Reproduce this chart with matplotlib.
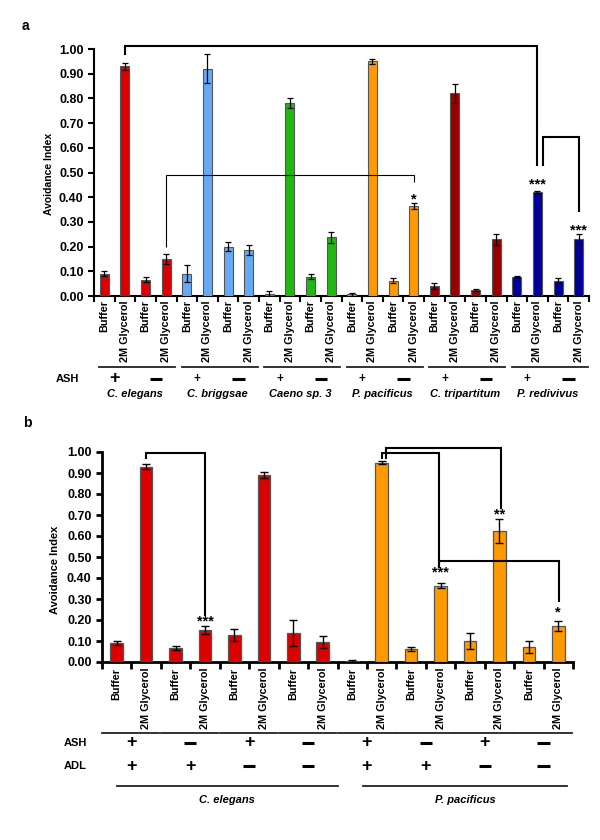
import matplotlib
matplotlib.use('Agg')
import matplotlib.pyplot as plt
from matplotlib.transforms import blended_transform_factory as btf
import numpy as np

plt.rcParams['font.family'] = ['Liberation Sans', 'DejaVu Sans']
plt.rcParams['font.weight'] = 'bold'

# ---------------- data ----------------
treatments = ['Buffer', '2M Glycerol']

a_species = ['C. elegans', 'C. briggsae', 'Caeno sp. 3', 'P. pacificus', 'C. tripartitum', 'P. redivivus']
a_ash = ['+', '-']
a_values = [0.09, 0.93, 0.065, 0.15,
            0.09, 0.92, 0.20, 0.185,
            0.007, 0.78, 0.078, 0.237,
            0.007, 0.95, 0.061, 0.364,
            0.04, 0.82, 0.024, 0.23,
            0.078, 0.42, 0.062, 0.23]
a_errors = [0.01, 0.013, 0.01, 0.02,
            0.034, 0.058, 0.019, 0.021,
            0.013, 0.02, 0.011, 0.021,
            0.006, 0.01, 0.01, 0.013,
            0.013, 0.04, 0.005, 0.022,
            0.003, 0.004, 0.01, 0.022]
a_colors = ['#DD0000', '#66AAF5', '#22B814', '#FF9900', '#990000', '#000099']

b_species = ['C. elegans', 'P. pacificus']
b_ash = ['+', '-', '+', '-']
b_adl = ['+', '+', '-', '-']
b_values = [0.09, 0.93, 0.066, 0.152, 0.128, 0.892, 0.138, 0.095,
            0.005, 0.95, 0.062, 0.363, 0.10, 0.622, 0.073, 0.172]
b_errors = [0.01, 0.012, 0.008, 0.02, 0.03, 0.015, 0.063, 0.03,
            0.003, 0.008, 0.008, 0.012, 0.038, 0.057, 0.028, 0.022]
b_colors = ['#DD0000', '#FF9900']

W, H = 600, 840
fig = plt.figure(figsize=(6, 8.4), dpi=100)


def fy(py):
    return 1 - py / H


def fx(px):
    return px / W


def style_axes(ax, n, lw, tl, pad):
    ax.set_xlim(-0.5, n - 0.5)
    ax.set_ylim(0, 1.0)
    for s in ['top', 'right']:
        ax.spines[s].set_visible(False)
    for s in ['left', 'bottom']:
        ax.spines[s].set_linewidth(lw)
    yt = np.round(np.arange(0, 1.001, 0.1), 2)
    ax.set_yticks(yt)
    ax.set_yticklabels([f'{v:.2f}' for v in yt], fontsize=9, fontweight='bold')
    ax.tick_params(axis='y', length=4, width=lw)
    ax.set_xticks(np.arange(-0.5, n, 1.0))
    ax.set_xticklabels([''] * (n + 1))
    ax.tick_params(axis='x', which='major', length=tl, width=lw, direction='out')
    ax.set_xticks(np.arange(n), minor=True)
    ax.set_xticklabels(treatments * (n // 2), minor=True, rotation=90,
                       fontsize=7.8, fontweight='bold')
    ax.tick_params(axis='x', which='minor', length=0, pad=pad)


def bracket(ax, pts, lw):
    xs = [p[0] for p in pts]
    ys = [p[1] for p in pts]
    ax.plot(xs, ys, color='black', lw=lw, clip_on=False,
            solid_joinstyle='miter', solid_capstyle='butt', zorder=5)


def sign_mark(ax, trans, x, y, sign, half, plus_size):
    if sign == '+':
        ax.text(x, y, '+', transform=trans, ha='center', va='center',
                fontsize=plus_size, fontweight='bold')
    else:
        ax.plot([x - half, x + half], [y, y], transform=trans, color='black',
                lw=2.2, solid_capstyle='butt', clip_on=False)


# ---------------- panel a ----------------
axa = fig.add_axes([fx(94), fy(296), (589 - 94) / W, (296 - 49) / H])
na = len(a_values)
xa = np.arange(na)
cols_a = [a_colors[i // 4] for i in range(na)]
axa.bar(xa, a_values, width=0.44, color=cols_a, edgecolor='#555555', linewidth=0.8,
        yerr=a_errors, capsize=2.5,
        error_kw=dict(elinewidth=0.9, capthick=0.9, ecolor='black'), zorder=3)
style_axes(axa, na, 1.5, 4, 3)

bracket(axa, [(1, 0.975), (1, 1.012), (21, 1.012), (21, 0.527)], 1.5)
bracket(axa, [(21.25, 0.527), (21.25, 0.645), (23, 0.645), (23, 0.34)], 1.5)
bracket(axa, [(3, 0.20), (3, 0.49), (15, 0.49), (15, 0.46)], 0.8)
axa.text(21, 0.45, '***', ha='center', va='center', fontsize=10.5)
axa.text(23, 0.267, '***', ha='center', va='center', fontsize=10.5)
axa.text(15, 0.392, '*', ha='center', va='center', fontsize=10.5)

ta = btf(axa.transData, fig.transFigure)
fig.text(fx(49), fy(174), 'Avoidance Index', rotation=90, ha='center', va='center',
         fontsize=7.5, fontweight='bold')
fig.text(fx(67), fy(379), 'ASH', ha='center', va='center', fontsize=8, fontweight='bold')
for g, sp in enumerate(a_species):
    x0 = 4 * g
    axa.plot([x0 - 0.25, x0 + 3.45], [fy(367)] * 2, transform=ta, color='#222222',
             lw=1.3, clip_on=False)
    for k, sign in enumerate(a_ash):
        sign_mark(axa, ta, x0 + 2 * k + 0.5, fy(379), sign, 0.3, 13 if g == 0 else 8.5)
    axa.text(x0 + 1.5, fy(394), sp, transform=ta, ha='center', va='center',
             fontsize=8, fontweight='bold', fontstyle='italic')

fig.text(fx(25), fy(26), 'a', ha='center', va='center', fontsize=10, fontweight='bold')

# ---------------- panel b ----------------
axb = fig.add_axes([fx(102), fy(662), (573 - 102) / W, (662 - 452) / H])
nb = len(b_values)
xb = np.arange(nb)
cols_b = [b_colors[i // 8] for i in range(nb)]
axb.bar(xb, b_values, width=0.43, color=cols_b, edgecolor='#555555', linewidth=0.9,
        yerr=b_errors, capsize=3,
        error_kw=dict(elinewidth=1.0, capthick=1.0, ecolor='black'), zorder=3)
style_axes(axb, nb, 2.0, 5, 4)

bracket(axb, [(1, 0.965), (1, 0.995), (3, 0.995), (3, 0.22)], 1.5)
bracket(axb, [(9.16, 0.965), (9.16, 1.017), (13.05, 1.017), (13.05, 0.73)], 1.5)
bracket(axb, [(9.0, 0.965), (9.0, 0.997), (10.95, 0.997), (10.95, 0.45)], 1.5)
bracket(axb, [(10.95, 0.45), (10.95, 0.48), (15.02, 0.48), (15.02, 0.285)], 1.5)
axb.text(3, 0.195, '***', ha='center', va='center', fontsize=10.5)
axb.text(13, 0.703, '**', ha='center', va='center', fontsize=10.5)
axb.text(11, 0.425, '***', ha='center', va='center', fontsize=10.5)
axb.text(15, 0.235, '*', ha='center', va='center', fontsize=10.5)

tb = btf(axb.transData, fig.transFigure)
fig.text(fx(55), fy(570), 'Avoidance Index', rotation=90, ha='center', va='center',
         fontsize=8, fontweight='bold')
fig.text(fx(75), fy(743), 'ASH', ha='center', va='center', fontsize=8, fontweight='bold')
fig.text(fx(75), fy(766), 'ADL', ha='center', va='center', fontsize=8, fontweight='bold')
for g, sp in enumerate(b_species):
    base = 8 * g
    for p in range(4):
        x0 = base + 2 * p
        axb.plot([x0 - 0.5, x0 + 1.45], [fy(733)] * 2, transform=tb, color='#222222',
                 lw=1.3, clip_on=False)
        for sign, yy in [(b_ash[p], 743), (b_adl[p], 766)]:
            sign_mark(axb, tb, x0 + 0.5, fy(yy), sign, 0.21, 13)
    axb.plot([base + (0.35 if g else 0.0), base + 7.5 - (0.2 if g else 0.0)],
             [fy(786)] * 2, transform=tb, color='#222222', lw=1.3, clip_on=False)
    axb.text(base + 3.75 + (0.1 if g else 0.0), fy(800), sp, transform=tb,
             ha='center', va='center', fontsize=8, fontweight='bold', fontstyle='italic')

fig.text(fx(27), fy(423), 'b', ha='center', va='center', fontsize=10, fontweight='bold')

fig.savefig('out.png', dpi=100)
